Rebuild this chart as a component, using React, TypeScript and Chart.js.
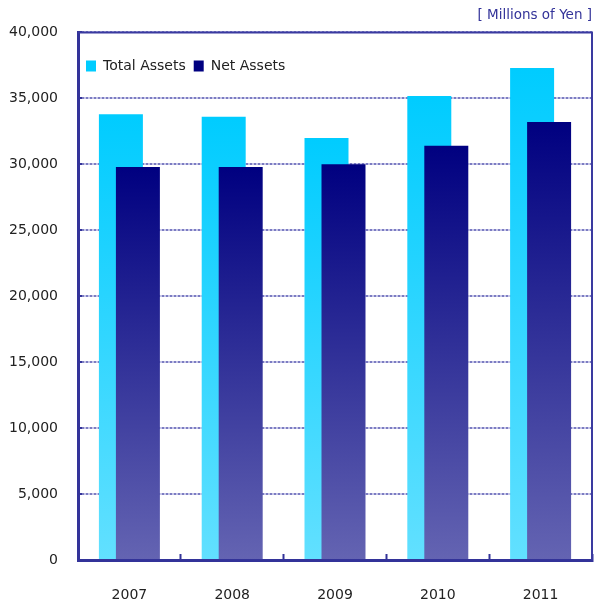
import React, { useEffect, useRef } from "react";
import { Chart, registerables } from "chart.js";

Chart.register(...registerables);

const categories = ["2007", "2008", "2009", "2010", "2011"];
const totalAssets = [33800, 33600, 32000, 35170, 37300];
const netAssets = [29800, 29800, 30000, 31400, 33200];
const seriesNames = ["Total Assets", "Net Assets"];
const unitLabel = "[ Millions of Yen ]";
const Y_MIN = 0;
const Y_MAX = 40000;
const Y_STEP = 5000;

const FONT = "'DejaVu Sans', Verdana, sans-serif";
const LEG_TOP = 60.5;
const LEG_BOX = 11;
const LEG_Y = 51;

function makeBg(top: string, bottom: string) {
  return (c: any) => {
    const chart = c.chart;
    const g = chart.ctx as CanvasRenderingContext2D;
    if (c.type !== "data") {
      const gr = g.createLinearGradient(0, LEG_TOP, 0, LEG_TOP + LEG_BOX);
      gr.addColorStop(0, top);
      gr.addColorStop(1, bottom);
      return gr;
    }
    const ys = chart.scales && chart.scales.y;
    if (!ys) return top;
    const yTop = ys.getPixelForValue(c.raw);
    const yBot = ys.getPixelForValue(0);
    if (!isFinite(yTop) || !isFinite(yBot) || yTop === yBot) return top;
    const gr = g.createLinearGradient(0, yTop, 0, yBot);
    gr.addColorStop(0, top);
    gr.addColorStop(1, bottom);
    return gr;
  };
}

const drawOrderPlugin = {
  id: "drawOrder",
  beforeDatasetsDraw(chart: any) {
    const metas = chart.getSortedVisibleDatasetMetas();
    metas.forEach((m: any) => m.controller.draw());
    return false;
  },
};

const legendInsidePlugin = {
  id: "legendInside",
  beforeLayout(chart: any) {
    const lg = chart.legend;
    if (lg && !lg._patched) {
      const orig = lg.fit.bind(lg);
      lg.fit = function () {
        orig();
        this._realH = this.height;
        this.height = 0;
      };
      lg._patched = true;
    }
  },
  afterLayout(chart: any) {
    const lg = chart.legend;
    const ca = chart.chartArea;
    if (!lg || !ca) return;
    lg.left = ca.left;
    lg.right = ca.right;
    lg.width = ca.right - ca.left;
    lg.top = LEG_Y;
    lg.height = lg._realH || 30;
    lg.bottom = lg.top + lg.height;
  },
};

const framePlugin = {
  id: "frame",
  afterDraw(chart: any) {
    const { ctx, chartArea } = chart;
    ctx.save();
    ctx.strokeStyle = "#3A3AA0";
    ctx.lineWidth = 2;
    ctx.beginPath();
    ctx.moveTo(chartArea.left, chartArea.top);
    ctx.lineTo(chartArea.right, chartArea.top);
    ctx.lineTo(chartArea.right, chartArea.bottom);
    ctx.stroke();
    ctx.restore();
  },
};

export default function App() {
  const ref = useRef<HTMLCanvasElement | null>(null);
  useEffect(() => {
    document.body.style.margin = "0";
    if (!ref.current) return;
    const chart = new Chart(ref.current, {
      type: "bar",
      data: {
        labels: categories,
        datasets: [
          {
            label: seriesNames[0],
            data: totalAssets,
            backgroundColor: makeBg("#00CCFF", "#62E0FF"),
            borderWidth: 0,
            categoryPercentage: 0.3307,
            barPercentage: 2.588,
            yAxisID: "y",
          },
          {
            label: seriesNames[1],
            data: netAssets,
            backgroundColor: makeBg("#000080", "#6464B2"),
            borderWidth: 0,
            categoryPercentage: 0.3307,
            barPercentage: 2.588,
            yAxisID: "y",
          },
        ],
      },
      options: {
        responsive: false,
        animation: false,
        devicePixelRatio: 1,
        layout: { padding: { left: 0, right: 8, top: 0, bottom: 0 } },
        plugins: {
          tooltip: { enabled: false },
          title: {
            display: true,
            text: unitLabel,
            align: "end",
            color: "#333399",
            font: { family: FONT, size: 13.5, weight: "normal" },
            padding: { top: 7, bottom: 8.8 },
          },
          legend: {
            position: "top",
            align: "start",
            labels: {
              boxWidth: 10,
              boxHeight: LEG_BOX,
              padding: 8,
              color: "#222222",
              font: { family: FONT, size: 14 },
            },
          },
        },
        scales: {
          x: {
            grid: {
              drawOnChartArea: false,
              drawTicks: true,
              tickLength: -6,
              tickWidth: 2,
              tickColor: "#333399",
            },
            border: { display: true, color: "#333399", width: 3, z: 1 },
            ticks: {
              color: "#222222",
              font: { family: FONT, size: 14 },
              padding: 33,
            },
            afterFit: (s: any) => {
              s.height = 45;
            },
          },
          y: {
            position: "left",
            min: Y_MIN,
            max: Y_MAX,
            grid: {
              color: "#C6C6E8",
              lineWidth: 2,
              z: -2,
              drawTicks: true,
              tickLength: -4,
              tickWidth: 2,
              tickColor: "#333399",
              tickBorderDash: [],
            },
            border: { display: true, color: "#333399", width: 3, z: 1 },
            ticks: {
              stepSize: Y_STEP,
              color: "#222222",
              font: { family: FONT, size: 14 },
              padding: 24,
              callback: (v: any) => Number(v).toLocaleString("en-US"),
            },
            afterFit: (s: any) => {
              s.width = 78;
            },
          },
          y2: {
            position: "left",
            min: Y_MIN,
            max: Y_MAX,
            grid: {
              color: "#7C7CC2",
              lineWidth: 2,
              z: -1,
              drawTicks: false,
            },
            border: { display: false, dash: [2, 2] },
            ticks: { stepSize: Y_STEP, display: false },
            afterFit: (s: any) => {
              s.width = 0;
            },
          },
        },
      },
      plugins: [drawOrderPlugin, legendInsidePlugin, framePlugin],
    } as any);
    return () => chart.destroy();
  }, []);
  return (
    <div style={{ width: 600, height: 605, overflow: "hidden", background: "#fff" }}>
      <canvas ref={ref} width={600} height={605} style={{ display: "block" }} />
    </div>
  );
}
